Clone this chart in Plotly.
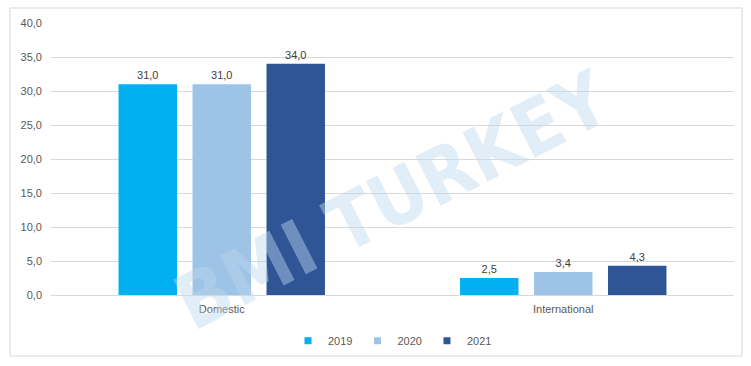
import plotly.graph_objects as go

categories = ["Domestic", "International"]
years = ["2019", "2020", "2021"]
values_2019 = [31.0, 2.5]
values_2020 = [31.0, 3.4]
values_2021 = [34.0, 4.3]
colors = ["#00B0F0", "#9DC3E6", "#2F5597"]
y_ticks = [0, 5, 10, 15, 20, 25, 30, 35, 40]

series = [values_2019, values_2020, values_2021]

W, H = 751, 366
ml, mr, mt, mb = 51, 17, 23, 71
pw, ph = W - ml - mr, H - mt - mb

fig = go.Figure()
for name, vals, col in zip(years, series, colors):
    fig.add_trace(go.Bar(
        x=categories, y=vals, name=name, marker=dict(color=col, line=dict(width=0)),
        text=[f"{v:.1f}".replace(".", ",") for v in vals], textposition="outside",
        textfont=dict(size=11, color="#404040"), cliponaxis=False, showlegend=False,
    ))
# legend entries with small square keys
for name, col in zip(years, colors):
    fig.add_trace(go.Scatter(
        x=[None], y=[None], mode="markers", name=name,
        marker=dict(symbol="square", size=7, color=col), showlegend=True,
    ))

fig.update_layout(
    width=W, height=H,
    margin=dict(l=ml, r=mr, t=mt, b=mb, autoexpand=False),
    paper_bgcolor="white", plot_bgcolor="white",
    barmode="group", bargap=0.35, bargroupgap=0.21,
    separators=",.",
    font=dict(family="Liberation Sans, Arial, sans-serif", size=11, color="#595959"),
    showlegend=True,
    legend=dict(orientation="h", x=0.5, xanchor="center", y=-0.115, yanchor="top",
                font=dict(size=11, color="#595959"), itemwidth=30, tracegroupgap=0),
    xaxis=dict(showgrid=False, showline=True, linecolor="#D9D9D9", ticks="",
               tickfont=dict(size=11, color="#595959"), automargin=False,
               ticklabelstandoff=4),
    yaxis=dict(range=[0, 40], tickvals=y_ticks, tickformat=".1f", showgrid=True,
               gridcolor="#D9D9D9", zeroline=False, showline=False, ticks="",
               tickfont=dict(size=11, color="#595959"), ticklabelstandoff=8,
               automargin=False),
)

# outer chart border
fig.add_shape(type="rect", xref="paper", yref="paper",
              x0=(10 - ml) / pw, x1=(742 - ml) / pw,
              y0=(H - mb - 356) / ph, y1=(H - mb - 8) / ph,
              line=dict(color="#D9D9D9", width=1), layer="below")

# watermark
fig.add_annotation(text="<b>BMI TURKEY</b>", xref="paper", yref="paper",
                   x=(392 - ml) / pw, y=(H - mb - 200) / ph,
                   xanchor="center", yanchor="middle", showarrow=False,
                   textangle=-27, font=dict(size=76, color="rgba(189,215,238,0.45)",
                                             family="DejaVu Sans Condensed, DejaVu Sans"))

fig.write_html("out.html", config={"displayModeBar": False},
               post_script="document.body.style.margin='0';document.body.style.overflow='hidden';")
